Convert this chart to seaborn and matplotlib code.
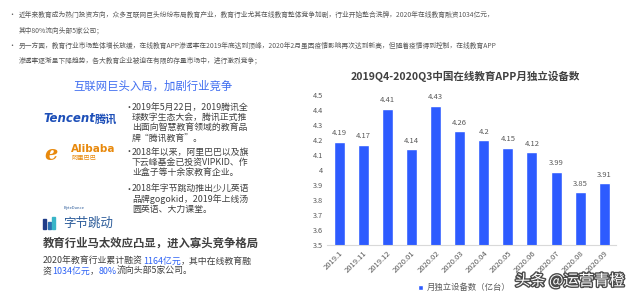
import numpy as np
import pandas as pd
import matplotlib
matplotlib.use('Agg')
import matplotlib.pyplot as plt
import matplotlib.patheffects as pe
from matplotlib.patches import Rectangle
import seaborn as sns

# Data
months = ['2019.1', '2019.11', '2019.12', '2020.01', '2020.02', '2020.03',
          '2020.04', '2020.05', '2020.06', '2020.07', '2020.08', '2020.09']
devices = [4.19, 4.17, 4.41, 4.14, 4.43, 4.26, 4.2, 4.15, 4.12, 3.99, 3.85, 3.91]
y_ticks = [3.5, 3.6, 3.7, 3.8, 3.9, 4.0, 4.1, 4.2, 4.3, 4.4, 4.5]

title = '2019Q4-2020Q3中国在线教育APP月独立设备数'
series_name = '月独立设备数（亿台）'

intro_lines = [
    ('•', '近年来教育成为热门投资方向，众多互联网巨头纷纷布局教育产业，教育行业尤其在线教育整体竞争加剧，行业开始整合洗牌，2020年在线教育融资1034亿元，'),
    ('', '其中80%流向头部5家公司；'),
    ('•', '另一方面，教育行业市场整体增长放缓，在线教育APP渗透率在2019年底达到顶峰，2020年2月虽因疫情影响再次达到新高，但随着疫情得到控制，在线教育APP'),
    ('', '渗透率逐渐呈下降趋势，各大教育企业被迫在有限的存量市场中，进行激烈竞争；'),
]
blocks = [
    ['2019年5月22日，2019腾讯全', '球数字生态大会，腾讯正式推', '出面向智慧教育领域的教育品', '牌“腾讯教育”。'],
    ['2018年以来，阿里巴巴以及旗', '下云峰基金已投资VIPKID、作', '业盒子等十余家教育企业。'],
    ['2018年字节跳动推出少儿英语', '品牌gogokid，2019年上线汤', '圆英语、大力课堂。'],
]

bar_color = '#2D5BFF'
hl_blue = '#2D62F5'
grey = '#595959'
dark = '#404040'

df = pd.DataFrame({'month': months, 'devices': devices})

sns.set_theme(style='white')
plt.rcParams['font.family'] = ['Noto Sans CJK SC', 'DejaVu Sans']

fig = plt.figure(figsize=(6.4, 2.98), dpi=100)

# background layer in pixel coordinates (y downward) for the text panel
bg = fig.add_axes([0, 0, 1, 1], zorder=0)
bg.set_xlim(0, 640)
bg.set_ylim(298, 0)
bg.axis('off')

# top bullet paragraph
for i, (b, line) in enumerate(intro_lines):
    y = 15 + i * 15.3
    if b:
        bg.text(8, y, b, fontsize=5, color=grey, va='center')
    bg.text(19, y, line, fontsize=4.85, color=grey, va='center')

# section heading
bg.text(153, 86, '互联网巨头入局，加剧行业竞争', fontsize=8.2, color='#3F6DF0',
        ha='center', va='center')

# company "logos" as text
t = bg.text(43, 119, 'Tencent', fontsize=8.5, color='#1D4FB8', fontweight='bold',
            fontstyle='italic', family='DejaVu Sans', va='center')
bg.annotate('腾讯', xy=(1, 0.5), xycoords=t, va='center', fontsize=8,
            color='#1D4FB8', fontweight='bold')
bg.text(44, 154, 'e', fontsize=15, color='#E8890C', family='DejaVu Serif',
        fontstyle='italic', fontweight='bold', va='center')
bg.text(71, 149, 'Alibaba', fontsize=7.5, color='#E8890C', fontweight='bold',
        family='DejaVu Sans', va='center')
bg.text(71, 158, '阿里巴巴', fontsize=4.5, color='#E8890C', va='center')
for k, (h, c) in enumerate([(10, '#1F3C88'), (7, '#2C6FB0'), (12, '#39B5C8')]):
    bg.add_patch(Rectangle((43 + k * 4.5, 229 - h), 3, h, color=c))
bg.text(64, 208, 'ByteDance', fontsize=3, color='#2C5C9A', va='center')
bg.text(63, 223, '字节跳动', fontsize=9, color='#2C5C9A', va='center')

# bullet blocks
block_tops = [107, 152, 189]
for top, lines in zip(block_tops, blocks):
    bg.text(124, top, '•', fontsize=6.5, color=dark, va='center')
    for j, line in enumerate(lines):
        bg.text(132, top + j * 10.4, line, fontsize=6.4, color=dark, va='center')

# bottom heading and highlighted sentence
bg.text(43, 243, '教育行业马太效应凸显，进入寡头竞争格局', fontsize=8.2,
        color=dark, fontweight='bold', va='center')


def seg_line(x, y, parts, size=6.4):
    t = bg.text(x, y, parts[0][0], fontsize=size, color=parts[0][1], va='center')
    for s, c in parts[1:]:
        t = bg.annotate(s, xy=(1, 0), xycoords=t, va='bottom', ha='left',
                        fontsize=size, color=c)
    return t


seg_line(43, 261, [('2020年教育行业累计融资', dark), ('1164亿元', hl_blue),
                   ('，其中在线教育融', dark)])
seg_line(43, 271, [('资', dark), ('1034亿元', hl_blue), ('，', dark),
                   ('80%', hl_blue), ('流向头部5家公司。', dark)])

# bar chart
ax = fig.add_axes([0.511, 0.178, 0.452, 0.503], zorder=1)
ax.patch.set_alpha(0)
sns.barplot(data=df, x='month', y='devices', color=bar_color, width=0.46,
            saturation=1, label=series_name, ax=ax)
ax.set_ylim(3.5, 4.5)
ax.set_yticks(y_ticks)
ax.set_yticklabels([f'{v:g}' for v in y_ticks])
ax.set_xlabel('')
ax.set_ylabel('')
ax.bar_label(ax.containers[0], labels=[f'{v:g}' for v in devices], padding=3,
             fontsize=5.5, color=grey)
ax.tick_params(axis='y', length=0, labelsize=5.3, labelcolor=grey, pad=3)
ax.tick_params(axis='x', length=0, labelsize=5.5, labelcolor=grey, pad=3)
for lab in ax.get_xticklabels():
    lab.set_rotation(45)
    lab.set_ha('right')
    lab.set_rotation_mode('anchor')
for side in ['top', 'right', 'left']:
    ax.spines[side].set_visible(False)
ax.spines['bottom'].set_color('#D9D9D9')
ax.spines['bottom'].set_linewidth(0.8)

fig.text(0.727, 1 - 76 / 298, title, fontsize=7.6, fontweight='bold', color=dark,
         ha='center', va='center')

ax.legend(loc='center', bbox_to_anchor=(0.725, 0.034), bbox_transform=fig.transFigure,
          frameon=False, fontsize=6, handlelength=0.7, handleheight=0.7,
          handletextpad=0.4, labelcolor=grey)

bg.text(515, 281, '头条 @运营青橙', fontsize=11, color='white', va='center',
        path_effects=[pe.withStroke(linewidth=2, foreground='#4A4A4A')], zorder=5)

fig.savefig('out.png', dpi=100, facecolor='white')
